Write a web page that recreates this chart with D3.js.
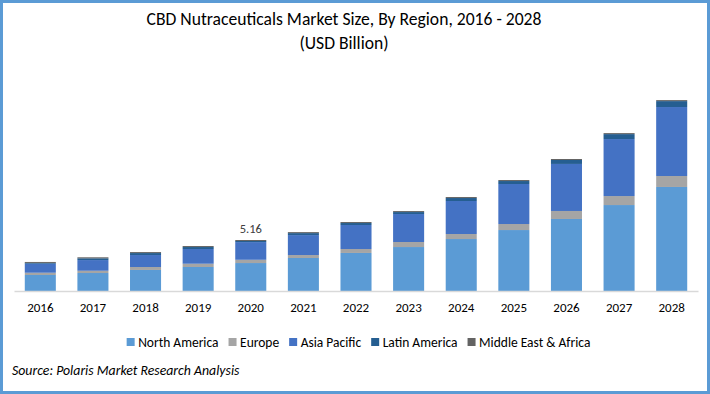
<!DOCTYPE html>
<html>
<head>
<meta charset="utf-8">
<script src="https://cdn.jsdelivr.net/npm/d3@7"></script>
<style>
    body { margin: 0; background: #fff; }
    text { font-family: Carlito, Calibri, Lato, sans-serif; }
</style>
</head>
<body>
<div id="the_chart"></div>
<script>
var years = ["2016", "2017", "2018", "2019", "2020", "2021", "2022", "2023", "2024", "2025", "2026", "2027", "2028"];
var regions = ["North America", "Europe", "Asia Pacific", "Latin America", "Middle East & Africa"];
var colors = ["#5b9bd5", "#a5a5a5", "#4472c4", "#255e91", "#636363"];

// USD billion
var northAmerica = [1.62, 1.82, 2.13, 2.43, 2.83, 3.34, 3.85, 4.45, 5.26, 6.17, 7.29, 8.70, 10.53];
var europe = [0.23, 0.23, 0.30, 0.33, 0.33, 0.30, 0.40, 0.51, 0.51, 0.61, 0.81, 0.91, 1.11];
var asiaPacific = [0.91, 1.08, 1.21, 1.49, 1.79, 2.02, 2.43, 2.83, 3.34, 4.05, 4.76, 5.77, 6.98];
var latinAmerica = [0.08, 0.18, 0.20, 0.20, 0.11, 0.20, 0.20, 0.20, 0.30, 0.30, 0.40, 0.50, 0.60];
var middleEast = [0.10, 0.10, 0.10, 0.10, 0.10, 0.10, 0.10, 0.10, 0.10, 0.10, 0.10, 0.10, 0.10];

var labelYear = "2020";
var labelText = "5.16";

var w = 710;
var h = 394;

var dataset = years.map(function (y, i) {
    return {
        year: y,
        "North America": northAmerica[i],
        "Europe": europe[i],
        "Asia Pacific": asiaPacific[i],
        "Latin America": latinAmerica[i],
        "Middle East & Africa": middleEast[i]
    };
});

var svg = d3.select("#the_chart")
    .append("svg")
    .attr("width", w)
    .attr("height", h);

svg.append("rect")
    .attr("x", 1.5)
    .attr("y", 1.5)
    .attr("width", w - 3)
    .attr("height", h - 3)
    .attr("fill", "#fff")
    .attr("stroke", "#5b9bd5")
    .attr("stroke-width", 3);

svg.append("text")
    .attr("x", 344)
    .attr("y", 25)
    .attr("text-anchor", "middle")
    .attr("font-size", 17.6)
    .attr("fill", "#000")
    .text("CBD Nutraceuticals Market Size, By Region, 2016 - 2028");

svg.append("text")
    .attr("x", 344)
    .attr("y", 49)
    .attr("text-anchor", "middle")
    .attr("font-size", 17.6)
    .attr("fill", "#000")
    .text("(USD Billion)");

var xscale = d3.scaleBand()
    .domain(years)
    .range([14, 698])
    .paddingInner(0.41)
    .paddingOuter(0.205);

var yscale = d3.scaleLinear()
    .domain([0, 20])
    .range([291, 93.4]);

var stack = d3.stack().keys(regions);
var series = stack(dataset);

svg.selectAll("g.series")
    .data(series)
    .enter().append("g")
    .attr("class", "series")
    .attr("fill", function (d, i) {
        return colors[i];
    })
    .selectAll("rect")
    .data(function (d) {
        return d;
    })
    .enter().append("rect")
    .attr("x", function (d) {
        return xscale(d.data.year);
    })
    .attr("width", xscale.bandwidth())
    .attr("y", function (d) {
        return yscale(d[1]);
    })
    .attr("height", function (d) {
        return yscale(d[0]) - yscale(d[1]);
    });

var xaxis = d3.axisBottom()
    .scale(xscale)
    .tickSize(0)
    .tickPadding(12);

var gX = svg.append("g")
    .attr("transform", "translate(0,291)")
    .call(xaxis);
gX.select(".domain").attr("stroke", "#d9d9d9").attr("stroke-width", 1.5);
gX.selectAll("text")
    .attr("font-size", 13)
    .attr("fill", "#000")
    .style("font-family", "Carlito, Calibri, Lato, sans-serif");

var last = series[series.length - 1];
var labelBar = last[years.indexOf(labelYear)];
svg.append("text")
    .attr("x", xscale(labelYear) + xscale.bandwidth() / 2)
    .attr("y", yscale(labelBar[1]) - 7)
    .attr("text-anchor", "middle")
    .attr("font-size", 12.5)
    .attr("fill", "#404040")
    .text(labelText);

// legend, laid out from text widths
var legend = svg.append("g");
var lx = 0;
regions.forEach(function (r, i) {
    var item = legend.append("g").attr("transform", "translate(" + lx + ",0)");
    item.append("rect")
        .attr("x", 0)
        .attr("y", -4)
        .attr("width", 8)
        .attr("height", 8)
        .attr("fill", colors[i]);
    var t = item.append("text")
        .attr("x", 11.5)
        .attr("y", 4.5)
        .attr("font-size", 13.5)
        .attr("fill", "#000")
        .text(r);
    lx += 11.5 + t.node().getComputedTextLength() + 10;
});
lx -= 10;
legend.attr("transform", "translate(" + (358.5 - lx / 2) + ",342)");

svg.append("text")
    .attr("x", 12)
    .attr("y", 375)
    .attr("font-size", 13.8)
    .attr("font-style", "italic")
    .attr("fill", "#000")
    .text("Source: Polaris Market Research Analysis");
</script>
</body>
</html>
